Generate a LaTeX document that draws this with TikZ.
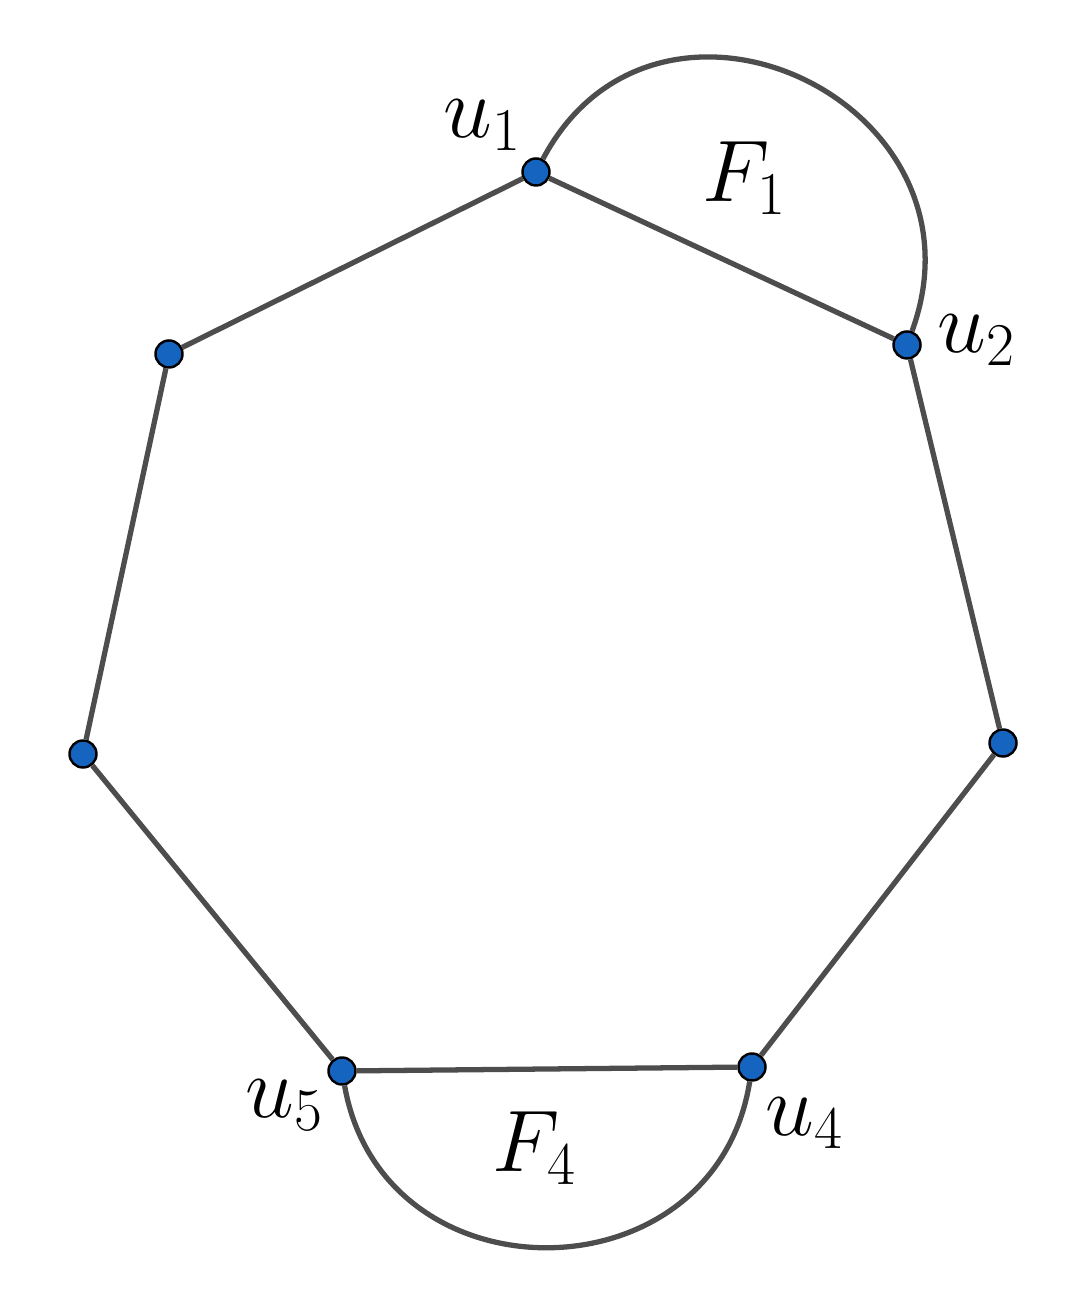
\documentclass[tikz,border=0pt]{standalone}
\usepackage{amsmath}
\usepackage{xcolor}
\usetikzlibrary{arrows.meta}
\definecolor{vblue}{RGB}{21,101,192}
\definecolor{egray}{RGB}{77,77,77}
\tikzset{
  vert/.style={circle,draw=black,fill=vblue,line width=0.7pt,inner sep=0pt,minimum size=0.27cm},
  edge/.style={draw=egray,line width=1.5pt},
  lab/.style={inner sep=0pt,font=\fontsize{27}{31}\selectfont}
}

\begin{document}
\begin{tikzpicture}[scale=1]
\useasboundingbox (0,0) rectangle (10.77,12.91);

%vertices
\node[vert] (u1) at (5.36,11.19) {};
\node[vert] (u2) at (9.07,9.46) {};
\node[vert] (w3) at (10.03,5.48) {};
\node[vert] (u4) at (7.52,2.24) {};
\node[vert] (u5) at (3.42,2.20) {};
\node[vert] (w6) at (0.83,5.37) {};
\node[vert] (w7) at (1.69,9.37) {};

%cycle
\draw[edge] (u1) -- (u2) -- (w3) -- (u4) -- (u5) -- (w6) -- (w7) -- (u1);

%F_1
\draw[edge] (u1) to[out=62,in=70,looseness=1.53] (u2);

%F_4
\draw[edge] (u5) to[out=-80,in=-99,looseness=1.4] (u4);

%labels
\node[lab] (l1) at (4.83,11.66) {$u_1$};
\node[lab] (l2) at (9.77,9.51) {$u_2$};
\node[lab] (l4) at (8.05,1.68) {$u_4$};
\node[lab] (l5) at (2.85,1.86) {$u_5$};
\node[lab] (f1) at (7.45,11.13) {$F_1$};
\node[lab] (f4) at (5.35,1.43) {$F_4$};
\end{tikzpicture}
\end{document}
